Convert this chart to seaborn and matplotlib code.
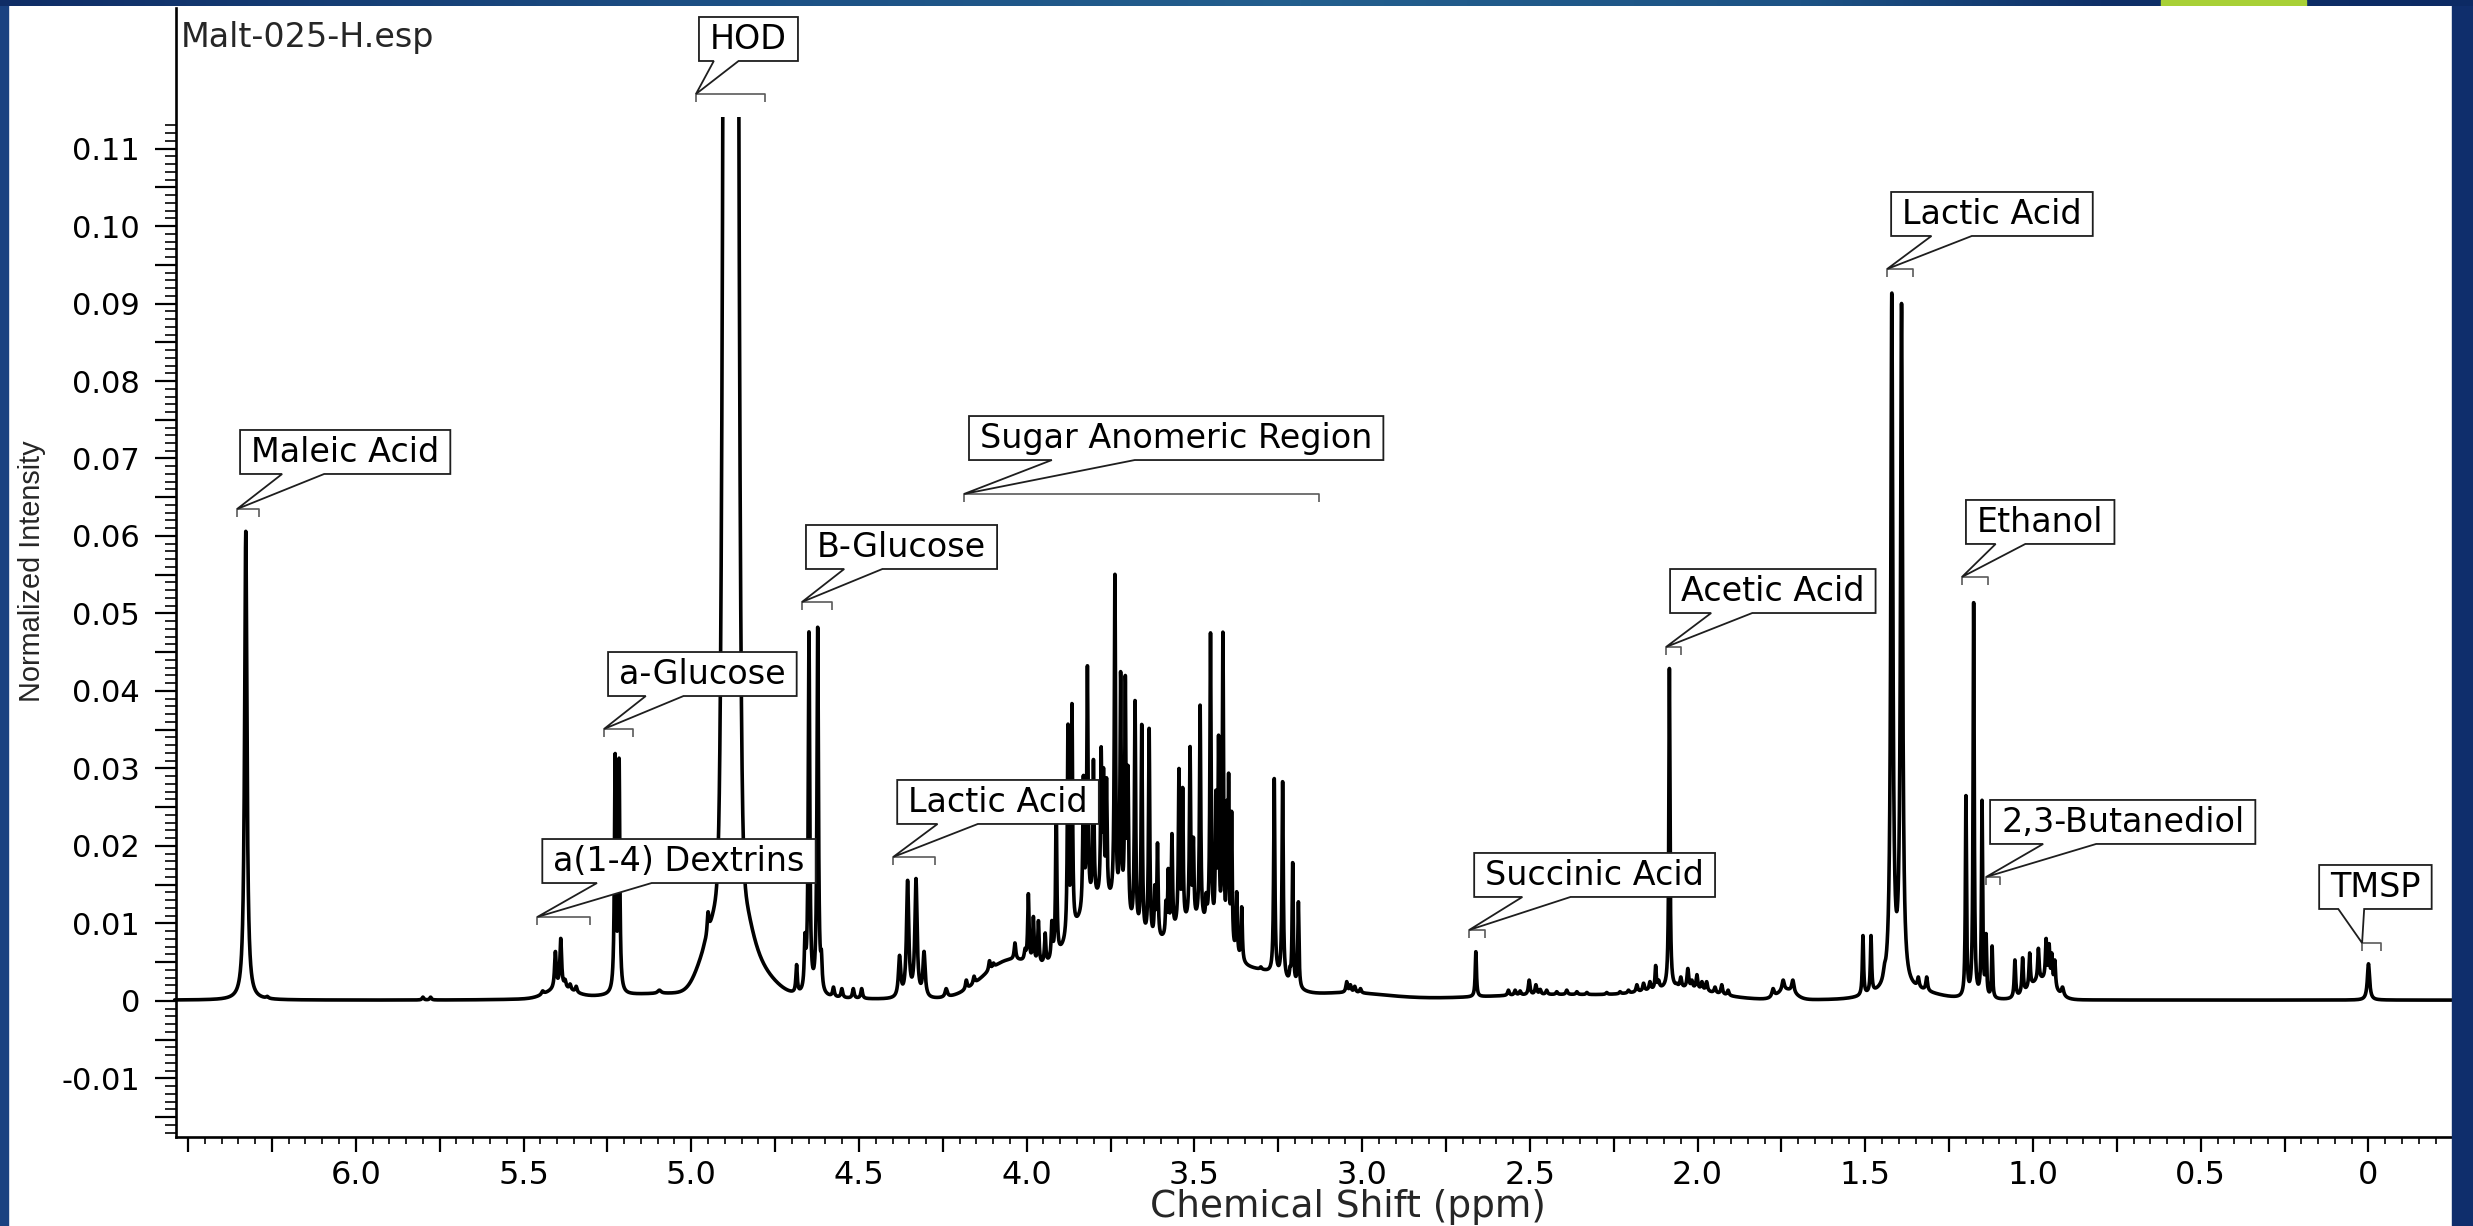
import numpy as np
import pandas as pd
import matplotlib
matplotlib.use("Agg")
import matplotlib.pyplot as plt
from matplotlib.patches import Rectangle, Polygon
from matplotlib.ticker import FixedLocator, FuncFormatter
import seaborn as sns

# ---------------------------------------------------------------------------
# 1H NMR peak table: chemical shift (ppm), apparent height, half width (ppm)
# ---------------------------------------------------------------------------
peak_ppm = [
    # maleic acid and weak signals
    6.328, 6.264, 5.800, 5.777,
    # a(1-4) dextrins
    5.443, 5.405, 5.389, 5.376, 5.361, 5.343,
    # a-glucose
    5.227, 5.215, 5.095,
    # HOD shoulders
    4.961, 4.950,
    # b-glucose
    4.686, 4.661, 4.649, 4.623, 4.612, 4.576, 4.551, 4.517, 4.492,
    # lactic acid CH
    4.379, 4.355, 4.330, 4.306,
    # sugar ring protons
    4.240, 4.180, 4.157, 4.135, 4.111, 4.099, 4.085, 4.059, 4.035, 4.005,
    3.995, 3.980, 3.965, 3.945, 3.925, 3.912, 3.877, 3.865, 3.831, 3.819,
    3.801, 3.778, 3.771, 3.762, 3.737, 3.720, 3.706, 3.698, 3.677, 3.657,
    3.635, 3.618, 3.610, 3.585, 3.578, 3.567, 3.546, 3.535, 3.513, 3.503,
    3.483, 3.465, 3.452, 3.436, 3.428, 3.415, 3.403, 3.398, 3.389, 3.374,
    3.359, 3.302, 3.285, 3.262, 3.237, 3.215, 3.207, 3.190,
    3.046, 3.035, 3.022, 3.005,
    # succinic acid and weak signals
    2.661, 2.564, 2.544, 2.529, 2.502, 2.482, 2.469, 2.450, 2.420, 2.390,
    2.360, 2.330, 2.271, 2.231, 2.206,
    # acetic acid region
    2.181, 2.161, 2.142, 2.125, 2.116, 2.084, 2.062, 2.050, 2.029, 2.017,
    2.002, 1.987, 1.973, 1.948, 1.928, 1.909,
    1.775, 1.745, 1.716,
    # lactic acid CH3
    1.507, 1.483, 1.443, 1.421, 1.392, 1.342, 1.317,
    # ethanol, 2,3-butanediol
    1.200, 1.177, 1.152, 1.140, 1.122,
    # aliphatic cluster
    1.054, 1.031, 1.010, 0.984, 0.961, 0.952, 0.944, 0.935, 0.912,
    # TMSP
    0.000,
]
peak_height = [
    0.0606, 0.0006, 0.0005, 0.0005,
    0.0013, 0.0064, 0.0081, 0.0028, 0.0022, 0.0019,
    0.0321, 0.0315, 0.0014,
    0.0075, 0.0115,
    0.0047, 0.0088, 0.0479, 0.0485, 0.0066, 0.0018, 0.0016, 0.0016, 0.0016,
    0.0059, 0.0156, 0.0158, 0.0064,
    0.0016, 0.0027, 0.0032, 0.0030, 0.0052, 0.0049, 0.0045, 0.0045, 0.0075, 0.0068,
    0.0139, 0.0109, 0.0104, 0.0088, 0.0104, 0.0260, 0.0359, 0.0386, 0.0292, 0.0435,
    0.0313, 0.0328, 0.0302, 0.0288, 0.0554, 0.0425, 0.0420, 0.0304, 0.0390, 0.0359,
    0.0354, 0.0150, 0.0204, 0.0130, 0.0171, 0.0217, 0.0300, 0.0277, 0.0330, 0.0212,
    0.0384, 0.0140, 0.0475, 0.0272, 0.0343, 0.0479, 0.0260, 0.0294, 0.0246, 0.0141,
    0.0122, 0.0044, 0.0040, 0.0287, 0.0285, 0.0045, 0.0180, 0.0128,
    0.0025, 0.0021, 0.0019, 0.0016,
    0.0064, 0.0014, 0.0014, 0.0013, 0.0027, 0.0021, 0.0015, 0.0014, 0.0012, 0.0014,
    0.0012, 0.0011, 0.0011, 0.0012, 0.0014,
    0.0021, 0.0023, 0.0025, 0.0046, 0.0027, 0.0429, 0.0023, 0.0031, 0.0042, 0.0027,
    0.0034, 0.0025, 0.0025, 0.0018, 0.0021, 0.0014,
    0.0016, 0.0027, 0.0027,
    0.0085, 0.0085, 0.0048, 0.0916, 0.0900, 0.0031, 0.0031,
    0.0265, 0.0519, 0.0259, 0.0087, 0.0071,
    0.0053, 0.0056, 0.0062, 0.0068, 0.0081, 0.0074, 0.0062, 0.0053, 0.0018,
    0.0048,
]
peak_hwhm = [
    0.0042, 0.004, 0.003, 0.003,
    0.004, 0.003, 0.003, 0.003, 0.003, 0.003,
    0.0024, 0.0024, 0.006,
    0.003, 0.003,
    0.0025, 0.0025, 0.0026, 0.0026, 0.0025, 0.003, 0.003, 0.003, 0.003,
    0.004, 0.004, 0.004, 0.004,
    0.004, 0.003, 0.003, 0.003, 0.0028, 0.0028, 0.0028, 0.003, 0.0028, 0.0028,
    0.0024, 0.0024, 0.0024, 0.0024, 0.0024, 0.0022, 0.0022, 0.0022, 0.0022, 0.0022,
    0.0022, 0.0020, 0.0020, 0.0020, 0.0022, 0.0022, 0.0022, 0.0020, 0.0022, 0.0022,
    0.0022, 0.0020, 0.0022, 0.0020, 0.0020, 0.0022, 0.0022, 0.0020, 0.0022, 0.0020,
    0.0022, 0.0022, 0.0022, 0.0020, 0.0020, 0.0022, 0.0017, 0.0017, 0.0020, 0.0022,
    0.0022, 0.003, 0.003, 0.0022, 0.0022, 0.002, 0.0020, 0.0020,
    0.003, 0.003, 0.003, 0.003,
    0.0022, 0.003, 0.003, 0.003, 0.003, 0.003, 0.003, 0.003, 0.003, 0.003,
    0.003, 0.003, 0.003, 0.003, 0.003,
    0.003, 0.003, 0.003, 0.0022, 0.003, 0.0020, 0.003, 0.003, 0.003, 0.003,
    0.003, 0.003, 0.003, 0.003, 0.003, 0.003,
    0.004, 0.004, 0.004,
    0.0022, 0.0022, 0.004, 0.0036, 0.0036, 0.003, 0.003,
    0.0020, 0.0020, 0.0020, 0.0020, 0.0020,
    0.0025, 0.0025, 0.0025, 0.0025, 0.0025, 0.0022, 0.0022, 0.0025, 0.004,
    0.0040,
]

# broad components: residual water and overlapping envelopes (ppm, height, sigma)
hump_ppm = [4.882, 4.882, 4.800, 4.960, 5.000, 5.390,
            4.050, 3.780, 3.500, 3.280, 3.050,
            2.400, 2.050, 1.735, 1.380, 0.975, 3.000]
hump_height = [0.71, 0.018, 0.003, 0.003, 0.0009, 0.0012,
               0.0050, 0.0125, 0.0095, 0.0025, 0.0009,
               0.0007, 0.0012, 0.0012, 0.0012, 0.0025, 0.00012]
hump_sigma = [0.012, 0.042, 0.05, 0.03, 0.25, 0.04,
              0.08, 0.09, 0.10, 0.06, 0.12,
              0.25, 0.10, 0.025, 0.08, 0.035, 10.0]

# assignments: label and bracketed shift range (ppm)
label_text = ["Maleic Acid", "HOD", "a-Glucose", "a(1-4) Dextrins", "B-Glucose",
              "Lactic Acid", "Sugar Anomeric Region", "Succinic Acid", "Acetic Acid",
              "Lactic Acid", "Ethanol", "2,3-Butanediol", "TMSP"]
label_from = [6.354, 4.986, 5.260, 5.459, 4.670, 4.398, 4.187, 2.681, 2.094,
              1.435, 1.212, 1.140, 0.019]
label_to = [6.288, 4.781, 5.174, 5.302, 4.580, 4.273, 3.128, 2.633, 2.049,
            1.358, 1.134, 1.098, -0.038]

x_ticks_major = [round(0.25 * i, 2) for i in range(0, 27)]
x_ticks_minor = [round(0.05 * i, 2) for i in range(-4, 131)]
y_ticks_major = [round(0.005 * i, 3) for i in range(-3, 23)]
y_ticks_minor = [round(0.001 * i, 3) for i in range(-17, 114)]

# ---------------------------------------------------------------------------
# build the spectrum from the peak table
# ---------------------------------------------------------------------------
c = np.array(peak_ppm)
h = np.array(peak_height)
g = np.array(peak_hwhm)
hc = np.array(hump_ppm)
hh = np.array(hump_height)
hs = np.array(hump_sigma)


def broad(x):
    x = np.asarray(x)[..., None]
    return (hh * np.exp(-(x - hc) ** 2 / (2 * hs ** 2))).sum(-1)


# amplitudes chosen so that each line reaches its listed apparent height
A = 1.0 / (1.0 + ((c[:, None] - c[None, :]) / g[None, :]) ** 2)
rhs = h - broad(c)
active = np.ones(len(c), bool)
amp = np.zeros(len(c))
for _ in range(len(c)):
    amp[:] = 0
    sub = np.linalg.solve(A[np.ix_(active, active)], rhs[active])
    amp[active] = sub
    if (sub >= 0).all():
        break
    active[np.where(active)[0][sub < 0]] = False

ppm = np.arange(6.54, -0.2501, -0.0004)
intensity = broad(ppm)
for cj, aj, gj in zip(c, amp, g):
    intensity += aj / (1.0 + ((ppm - cj) / gj) ** 2)

df = pd.DataFrame({"ppm": ppm, "intensity": intensity})

# ---------------------------------------------------------------------------
# figure
# ---------------------------------------------------------------------------
sns.set_theme(style="white")
plt.rcParams["font.family"] = ["DejaVu Sans"]

W, H = 2473, 1226
fig = plt.figure(figsize=(W / 100, H / 100), dpi=100)
fig.patch.set_facecolor("white")
ax = fig.add_axes([176 / W, (H - 1137) / H, (2452 - 176) / W, (1137 - 8) / H])
ax.set_facecolor("white")

sns.lineplot(data=df, x="ppm", y="intensity", ax=ax, color="black",
             linewidth=2.6, estimator=None, sort=False, zorder=2)
line = ax.lines[0]

ax.set_xlim(6.536, -0.249)
ax.set_ylim(-0.01755, 0.12813)
ax.set_xlabel("")
ax.set_ylabel("")

# intensity display is cut off just under the header
clip = Rectangle((-1.0, -1.0), 10.0, 1.1141, transform=ax.transData)
line.set_clip_path(clip)

for side in ("top", "right"):
    ax.spines[side].set_visible(False)
for side in ("left", "bottom"):
    ax.spines[side].set_linewidth(1.9)
    ax.spines[side].set_color("black")

ax.xaxis.set_major_locator(FixedLocator(x_ticks_major))
ax.xaxis.set_minor_locator(FixedLocator(x_ticks_minor))
ax.yaxis.set_major_locator(FixedLocator(y_ticks_major))
ax.yaxis.set_minor_locator(FixedLocator(y_ticks_minor))


def fmt_x(v, _):
    if abs(v) < 1e-9:
        return "0"
    if abs(v * 2 - round(v * 2)) < 1e-6 and v < 6.4:
        return f"{v:.1f}"
    return ""


def fmt_y(v, _):
    if abs(v) < 1e-9:
        return "0"
    if abs(v * 100 - round(v * 100)) < 1e-6:
        return f"{v:.2f}"
    return ""


ax.xaxis.set_major_formatter(FuncFormatter(fmt_x))
ax.yaxis.set_major_formatter(FuncFormatter(fmt_y))
ax.tick_params(axis="x", which="major", direction="out", length=10.5, width=1.6,
               pad=6, labelsize=23, colors="black", bottom=True)
ax.tick_params(axis="x", which="minor", direction="out", length=5, width=1.4,
               bottom=True)
ax.tick_params(axis="y", which="major", direction="out", length=15, width=1.6,
               pad=11, labelsize=22, colors="black", left=True)
ax.tick_params(axis="y", which="minor", direction="out", length=8, width=1.4,
               left=True)

# ---------------------------------------------------------------------------
# assignment call-outs
# ---------------------------------------------------------------------------
box_layout = [  # box left (ppm), box top (intensity), pointer base fractions
    (6.345, 0.07368, 0.20, 0.40),
    (4.977, 0.12697, 0.15, 0.40),
    (5.248, 0.04503, 0.20, 0.40),
    (5.444, 0.02090, 0.20, 0.40),
    (4.658, 0.06142, 0.20, 0.40),
    (4.386, 0.02852, 0.20, 0.40),
    (4.172, 0.07548, 0.20, 0.40),
    (2.666, 0.01910, 0.20, 0.40),
    (2.082, 0.05574, 0.20, 0.40),
    (1.423, 0.10439, 0.20, 0.40),
    (1.200, 0.06465, 0.20, 0.40),
    (1.128, 0.02594, 0.20, 0.40),
    (0.147, 0.01755, 0.17, 0.40),
]
bracket_level = [0.06348, 0.11703, 0.03510, 0.01084, 0.05148, 0.01858, 0.06542,
                 0.00916, 0.04568, 0.09445, 0.05471, 0.01600, 0.00748]

fig.canvas.draw()
renderer = fig.canvas.get_renderer()
to_px = ax.transData.transform
to_data = ax.transData.inverted().transform
BOX_H, PAD, DROP = 44.0, 11.0, 8.0

for text, p0, p1, lvl, (bl, bt, f1, f2) in zip(label_text, label_from, label_to,
                                             bracket_level, box_layout):
    # bracket over the assigned range
    x0, yb = to_px((p0, lvl))
    x1, _ = to_px((p1, lvl))
    pts = to_data([(x0, yb - DROP), (x0, yb), (x1, yb), (x1, yb - DROP)])
    ax.plot(pts[:, 0], pts[:, 1], color="#5a5a5a", lw=1.2, zorder=4,
            clip_on=False, solid_capstyle="butt")

    # call-out box with pointer to the bracket
    L, T = to_px((bl, bt))
    B = T - BOX_H
    tx, ty = to_data((L + PAD, B + 12.0))
    t = ax.text(tx, ty, text, fontsize=24, ha="left", va="baseline",
                color="black", zorder=7, clip_on=False)
    ext = t.get_window_extent(renderer)
    R = ext.x1 + PAD
    w = R - L
    b1, b2 = L + f1 * w, L + f2 * w
    poly = to_data([(L, T), (R, T), (R, B), (b2, B), (x0, yb), (b1, B), (L, B)])
    ax.add_patch(Polygon(poly, closed=True, facecolor="white", edgecolor="#1e1e1e",
                         lw=1.3, zorder=6, clip_on=False))

# file name, axis titles
fig.text(181 / W, 1 - 21 / H, "Malt-025-H.esp", fontsize=24, ha="left", va="top")
fig.text(1348 / W, (H - 1207) / H, "Chemical Shift (ppm)", fontsize=27,
         ha="center", va="center")
fig.text(32 / W, (H - 571) / H, "Normalized Intensity", fontsize=20.8,
         rotation=90, ha="center", va="center",
         family=["Liberation Sans", "DejaVu Sans"])

# ---------------------------------------------------------------------------
# slide frame
# ---------------------------------------------------------------------------
stops_px = [0, 700, 1300, 1800, 2100, 2473]
stops_rgb = np.array([[15, 45, 102], [28, 79, 132], [35, 95, 142],
                      [29, 83, 133], [15, 48, 104], [12, 42, 100]]) / 255.0
xs = np.arange(W)
grad = np.stack([np.interp(xs, stops_px, stops_rgb[:, k]) for k in range(3)], -1)
top = fig.add_axes([0, 1 - 6 / H, 1, 6 / H], zorder=10)
top.imshow(grad[None, :, :], aspect="auto", extent=(0, W, 0, 1))
top.add_patch(Rectangle((2161, 0), 145, 1, color="#a8d036"))
top.set_xlim(0, W)
top.set_ylim(0, 1)
top.axis("off")

fig.add_artist(Rectangle((0, 0), 8 / W, 1, transform=fig.transFigure,
                         color="#1a4281", zorder=10))
fig.add_artist(Rectangle((2452 / W, 0), 21 / W, 1, transform=fig.transFigure,
                         color="#0f2e6c", zorder=10))

fig.savefig("out.png", dpi=100, facecolor="white")
